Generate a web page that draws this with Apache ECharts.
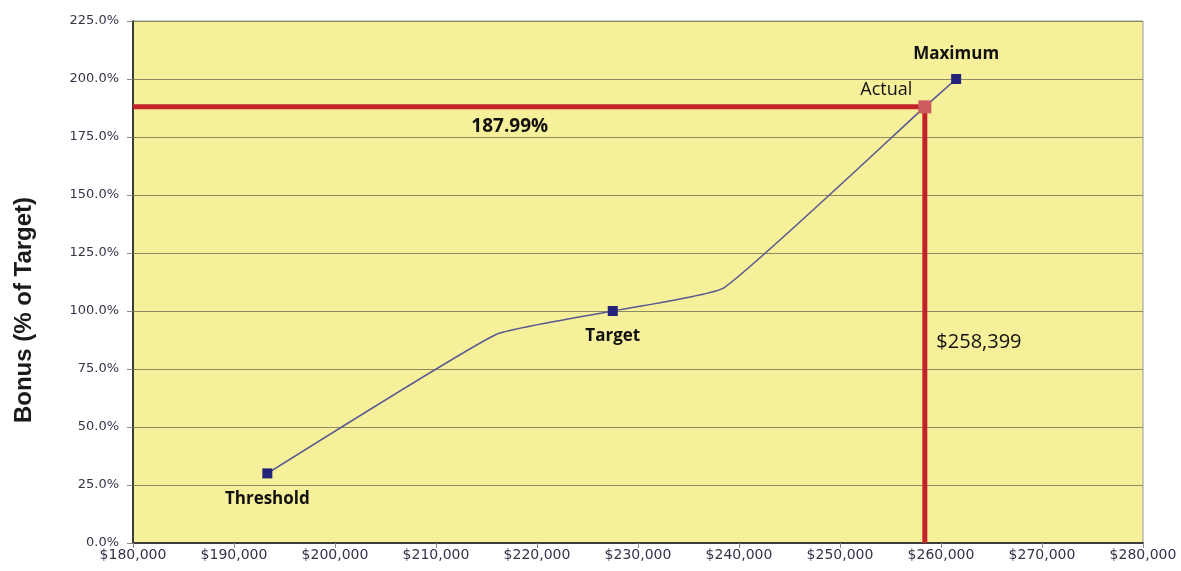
<!DOCTYPE html>
<html>
<head>
<meta charset="utf-8">
<script src="https://cdn.jsdelivr.net/npm/echarts@6/dist/echarts.min.js"></script>
<style>
html,body{margin:0;padding:0;background:#fff;}
#chart{width:1181px;height:571px;}
</style>
</head>
<body>
<div id="chart"></div>
<script>
// Bonus curve (performance value -> bonus % of target)
const curveX = [193300, 216000, 227500, 238500, 258399, 261500];
const curveY = [30, 90, 100, 110, 187.99, 200];
const curveNames = ['Threshold', '', 'Target', '', '', 'Maximum'];
const actualX = 258399;
const actualY = 187.99;
const yTicks = [0, 25, 50, 75, 100, 125, 150, 175, 200, 225];
const xTicks = [180000, 190000, 200000, 210000, 220000, 230000, 240000, 250000, 260000, 270000, 280000];
const yTitle = 'Bonus (% of Target)';

const navy = '#23237a';
const fontCal = '"Open Sans", Lato, sans-serif';
const fontAxis = '"DejaVu Sans", Arial, sans-serif';

function money(v) { return '$' + Math.round(v).toString().replace(/\B(?=(\d{3})+(?!\d))/g, ','); }

const curveData = curveX.map((x, i) => {
  const name = curveNames[i];
  const item = { value: [x, curveY[i]], symbol: (name ? 'rect' : 'none') };
  if (name) {
    const top = (name === 'Maximum');
    item.label = { show: true, formatter: name, position: top ? 'top' : 'bottom', distance: top ? 11 : 12 };
  }
  return item;
});

const chart = echarts.init(document.getElementById('chart'));
chart.setOption({
  animation: false,
  backgroundColor: '#ffffff',
  grid: { left: 133, right: 38, top: 21, bottom: 28, show: true, backgroundColor: '#f7f09a', borderColor: '#9a9a9a', borderWidth: 1 },
  graphic: [{
    type: 'text', x: 24, y: 310, rotation: Math.PI / 2,
    style: { text: yTitle, align: 'center', verticalAlign: 'middle', textAlign: 'center', textVerticalAlign: 'middle',
             fill: '#1a1a1a', fontSize: 24, fontWeight: 'bold', fontFamily: 'Arial, "Liberation Sans", sans-serif' }
  }],
  xAxis: {
    type: 'value', min: xTicks[0], max: xTicks[xTicks.length - 1], interval: 10000,
    axisLine: { show: true, onZero: false, lineStyle: { color: '#3c3c3c', width: 2 } },
    axisTick: { show: true, length: 5, lineStyle: { color: '#8a8a8a' } },
    splitLine: { show: false },
    axisLabel: { color: '#33334a', fontSize: 14, fontFamily: fontAxis, margin: 5, formatter: money }
  },
  yAxis: {
    type: 'value', min: yTicks[0], max: yTicks[yTicks.length - 1], interval: 25,
    axisLine: { show: true, lineStyle: { color: '#3c3c3c', width: 2 } },
    axisTick: { show: true, length: 6, lineStyle: { color: '#8a8a8a' } },
    splitLine: { show: true, lineStyle: { color: '#8c8a5e', width: 1 } },
    axisLabel: { color: '#33334a', fontSize: 13, fontFamily: fontAxis, margin: 14, formatter: v => v.toFixed(1) + '%' }
  },
  series: [
    {
      type: 'line', smooth: 0.12, data: curveData, z: 3,
      symbolSize: 10, itemStyle: { color: navy },
      lineStyle: { color: '#5a5a90', width: 1.6 },
      label: { color: '#111111', fontSize: 17, fontWeight: 'bold', fontFamily: fontCal }
    },
    {
      type: 'line', z: 4, symbol: 'none',
      data: [[xTicks[0], actualY], [actualX, actualY], [actualX, yTicks[0]]],
      lineStyle: { color: '#c4212a', width: 5 }
    },
    {
      type: 'scatter', z: 5, symbol: 'rect', symbolSize: 13,
      itemStyle: { color: '#cc5a5e', opacity: 1 },
      data: [{ value: [actualX, actualY], label: { show: true, formatter: 'Actual', position: 'left', offset: [-1, -17], color: '#111111', fontSize: 18, fontFamily: fontCal } }]
    },
    {
      type: 'scatter', z: 6, symbol: 'circle', symbolSize: 1, silent: true,
      itemStyle: { color: 'rgba(0,0,0,0)', opacity: 1 },
      data: [
        { value: [217300, 179.3], label: { show: true, position: 'inside', formatter: actualY.toFixed(2) + '%', color: '#111111', fontSize: 19, fontWeight: 'bold', fontFamily: fontCal } },
        { value: [actualX, 86.6], label: { show: true, position: 'right', distance: 11, formatter: money(actualX), color: '#111111', fontSize: 20, fontFamily: fontCal } }
      ]
    }
  ]
});
</script>
</body>
</html>
